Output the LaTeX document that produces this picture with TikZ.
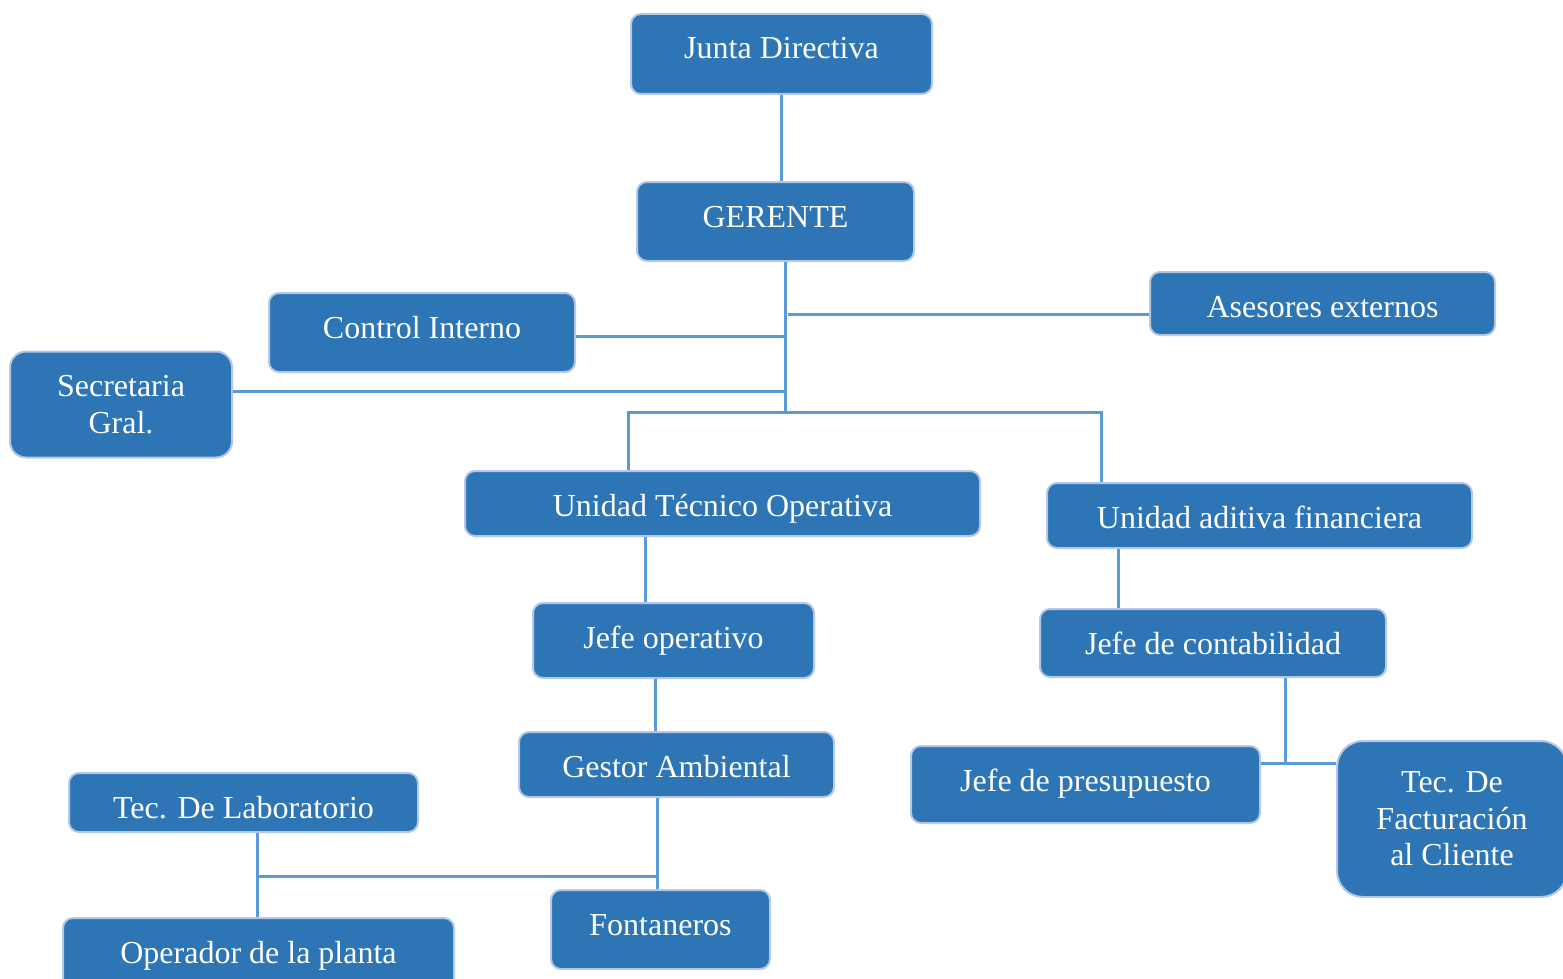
\documentclass[tikz,border=0pt]{standalone}
\usepackage{fontspec}
\setmainfont{Liberation Serif}
\definecolor{cajaazul}{HTML}{2E75B6}
\definecolor{bordeazul}{HTML}{B4C7E7}
\definecolor{lineaazul}{HTML}{5B9BD5}
\tikzset{
  base/.style={draw=bordeazul, line width=1pt, fill=cajaazul, rounded corners=5pt,
    text=white, font=\fontsize{16}{18.25}\selectfont, align=center, inner sep=0pt},
  caja/.style 2 args={base, minimum width=#1*0.5pt, minimum height=#2*0.5pt,
    text height=22.5pt, text depth=#2*0.5pt-22.5pt},
  cajaalta/.style 2 args={base, minimum width=#1*0.5pt, minimum height=#2*0.5pt},
  enlace/.style={draw=lineaazul, line width=1.5pt},
}

\begin{document}
\begin{tikzpicture}[x=0.5pt,y=-0.5pt]
  \useasboundingbox (0,0) rectangle (1563,979);
  \clip (0,0) rectangle (1563,979);

  % cajas
  \node[caja={301}{80}] (junta) at (781.5,54) {Junta Directiva};
  \node[caja={277}{79}] (gerente) at (775.5,221.5) {GERENTE};
  \node[caja={306}{79}] (control) at (422,332.5) {Control Interno};
  \node[caja={345}{63}] (asesores) at (1322.5,303.5) {Asesores externos};
  \node[cajaalta={222}{106}, rounded corners=8pt] (secretaria) at (121,404.5) {Secretaria\\Gral.};
  \node[caja={515}{65}] (uto) at (722.5,503.5) {Unidad Técnico Operativa};
  \node[caja={425}{65}] (uaf) at (1259.5,515.5) {Unidad aditiva financiera};
  \node[caja={281}{75}] (jefeop) at (673.5,640.5) {Jefe operativo};
  \node[caja={346}{68}] (jefecont) at (1213,643) {Jefe de contabilidad};
  \node[caja={315}{65}] (gestor) at (676.5,764.5) {Gestor Ambiental};
  \node[caja={349}{77}] (jefepres) at (1085.5,784.5) {Jefe de presupuesto};
  \node[cajaalta={230}{156}, rounded corners=13pt] (factura) at (1452,819) {Tec. De\\Facturación\\al Cliente};
  \node[caja={349}{59}] (lab) at (243.5,802.5) {Tec. De Laboratorio};
  \node[caja={391}{72}] (operador) at (258.5,954) {Operador de la planta};
  \node[caja={219}{79}] (fontaneros) at (660.5,929.5) {Fontaneros};

  % puntos de union
  \coordinate (tronco) at (785,412);
  \coordinate (ramaizq) at (628,412);
  \coordinate (ramader) at (1101,412);
  \coordinate (nudo1) at (257,876);
  \coordinate (nudo2) at (657,876);
  \coordinate (nudo3) at (1285,763);

  % enlaces
  \draw[enlace] (junta.south) -- (junta.south |- gerente.north);
  \draw[enlace] (gerente.south -| tronco) -- (tronco);
  \draw[enlace] ([yshift=-5.25pt]asesores.west) -- ++(-361,0);
  \draw[enlace] ([yshift=-1.75pt]control.east) -- ++(208,0);
  \draw[enlace] ([yshift=6.75pt]secretaria.east) -- ++(553,0);
  \draw[enlace] (ramaizq |- uto.north) -- (ramaizq) -- (ramader) -- (ramader |- uaf.north);
  \draw[enlace] ([xshift=-38.75pt]uto.south) -- ([xshift=-38.75pt]uto.south |- jefeop.north);
  \draw[enlace] ([xshift=-9.25pt]jefeop.south) -- ([xshift=-9.25pt]jefeop.south |- gestor.north);
  \draw[enlace] ([xshift=-9.75pt]gestor.south) -- ([xshift=-9.75pt]gestor.south |- fontaneros.north);
  \draw[enlace] ([xshift=6.75pt]lab.south) -- ([xshift=6.75pt]lab.south |- operador.north);
  \draw[enlace] (nudo1) -- (nudo2);
  \draw[enlace] ([xshift=-70.75pt]uaf.south) -- ([xshift=-70.75pt]uaf.south |- jefecont.north);
  \draw[enlace] ([xshift=36pt]jefecont.south) -- (nudo3);
  \draw[enlace] (jefepres.east |- nudo3) -- (factura.west |- nudo3);
\end{tikzpicture}
\end{document}
